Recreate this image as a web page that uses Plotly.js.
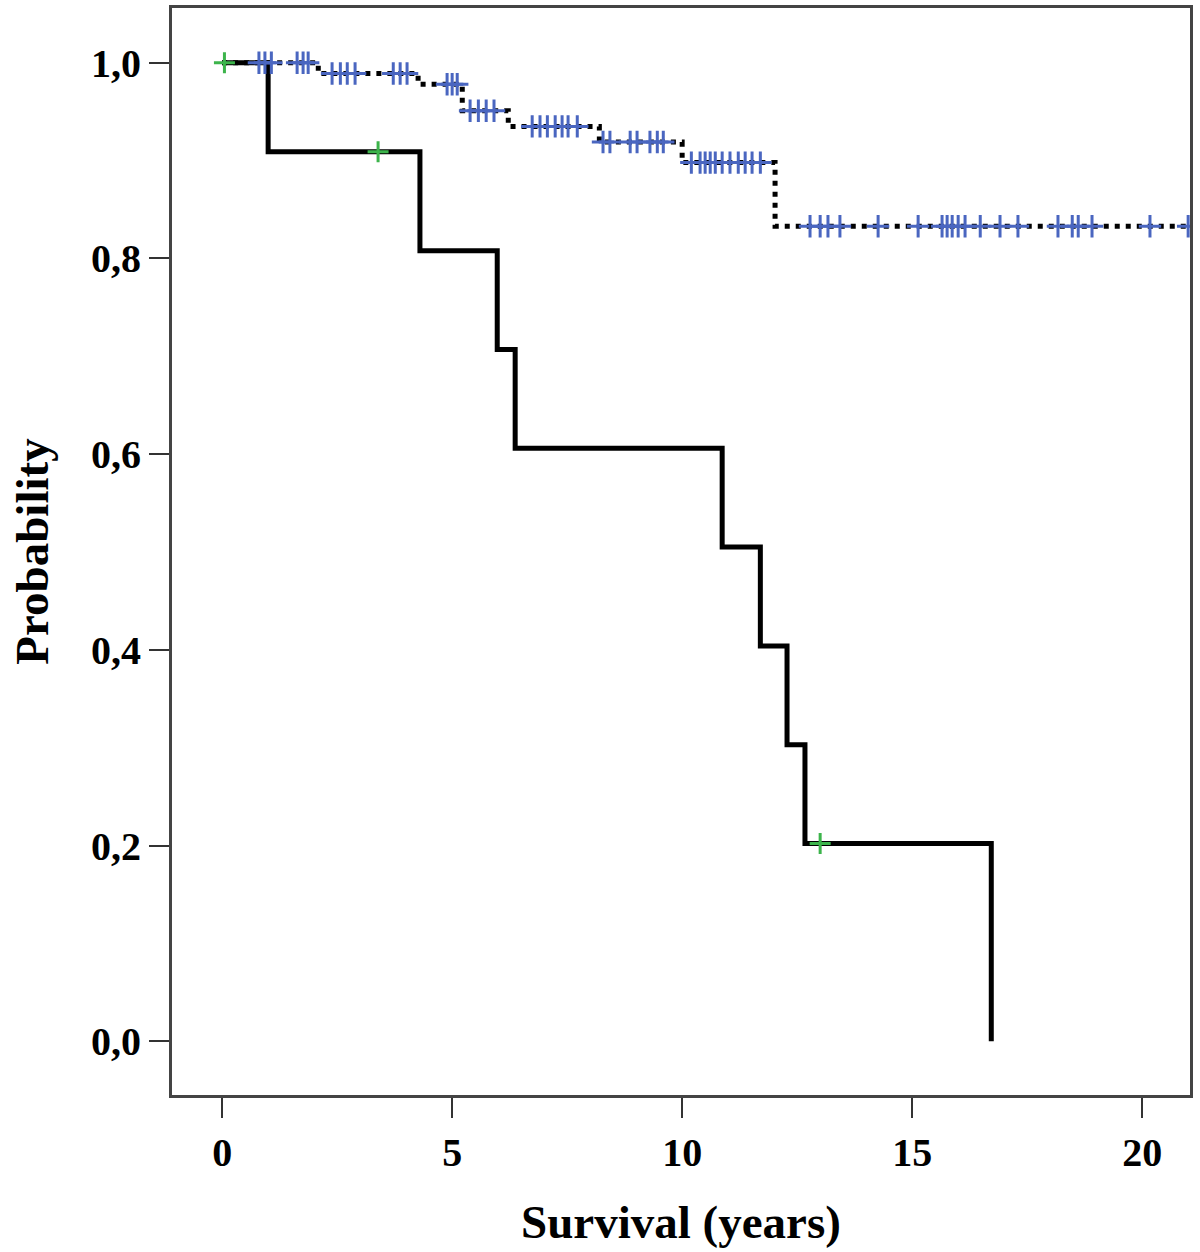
<!DOCTYPE html>
<html>
<head>
<meta charset="utf-8">
<script src="https://cdn.plot.ly/plotly-3.0.1.min.js"></script>
<style>html,body{margin:0;padding:0;background:#fff;}#chart{width:1200px;height:1252px;}</style>
</head>
<body>
<div id="chart"></div>
<script>
// Group A (dotted): step times and survival levels
const dottedTimes = [0, 2.09, 4.26, 5.22, 6.22, 8.2, 10.0, 12.02];
const dottedSurv  = [1.0, 0.989, 0.978, 0.951, 0.935, 0.919, 0.898, 0.833];
const dottedEnd = 21.05;
// Group A censored observations (blue)
const dottedCensTimes = [0.8, 0.93, 1.07, 1.63, 1.76, 1.87,
  2.39, 2.57, 2.72, 2.89, 3.72, 3.87, 4.02,
  4.89, 5.0, 5.11,
  5.39, 5.57, 5.74, 5.91,
  6.74, 6.91, 7.07, 7.24, 7.39, 7.52, 7.72,
  8.28, 8.43, 8.87, 9.02, 9.3, 9.46, 9.59,
  10.2, 10.39, 10.5, 10.61, 10.72, 10.87, 11.04, 11.22, 11.37, 11.52, 11.7,
  12.78, 13.0, 13.17, 13.43, 14.26, 15.13, 15.65, 15.76, 15.87, 16.0, 16.15,
  16.48, 16.91, 17.3, 18.17, 18.48, 18.61, 18.91, 20.17, 21.0];

// Group B (solid)
const solidTimes = [0, 1.0, 4.3, 5.98, 6.37, 10.87, 11.7, 12.28, 12.67, 16.72];
const solidSurv  = [1.0, 0.909, 0.808, 0.707, 0.606, 0.505, 0.404, 0.303, 0.202, 0.0];
const solidCensTimes = [0.05, 3.39, 13.0];

const xTicks = [0, 5, 10, 15, 20];
const yTicks = [0, 0.2, 0.4, 0.6, 0.8, 1.0];
const yTickText = ['0,0', '0,2', '0,4', '0,6', '0,8', '1,0'];

function stepValueAt(times, surv, t) {
  let v = surv[0];
  for (let i = 0; i < times.length; i++) { if (times[i] <= t) v = surv[i]; }
  return v;
}
function stepPath(times, surv, end) {
  const x = [], y = [];
  for (let i = 0; i < times.length; i++) {
    if (i > 0) { x.push(times[i]); y.push(surv[i - 1]); }
    x.push(times[i]); y.push(surv[i]);
  }
  if (end !== undefined) { x.push(end); y.push(surv[surv.length - 1]); }
  return {x, y};
}

const dp = stepPath(dottedTimes, dottedSurv, dottedEnd);
const sp = stepPath(solidTimes, solidSurv);

const traces = [
  {x: dp.x, y: dp.y, mode: 'lines', line: {color: '#000', width: 5, dash: '5px,6px'}, hoverinfo: 'skip'},
  {x: sp.x, y: sp.y, mode: 'lines', line: {color: '#000', width: 5}, hoverinfo: 'skip'},
  {x: dottedCensTimes, y: dottedCensTimes.map(t => stepValueAt(dottedTimes, dottedSurv, t)),
   mode: 'markers', marker: {symbol: 'cross-thin', size: 16, color: '#4a66c0', line: {color: '#4a66c0', width: 3}}},
  {x: solidCensTimes, y: solidCensTimes.map(t => stepValueAt(solidTimes, solidSurv, t)),
   mode: 'markers', marker: {symbol: 'cross-thin', size: 15, color: '#3cb44b', line: {color: '#3cb44b', width: 3}}}
];

const font = {family: '"Liberation Serif", "Times New Roman", serif', color: '#000'};

const layout = {
  width: 1200, height: 1252,
  margin: {l: 172, r: 10, t: 8, b: 157},
  paper_bgcolor: '#fff', plot_bgcolor: '#fff',
  showlegend: false,
  font: font,
  xaxis: {
    range: [-1.09, 21.04], tickvals: xTicks, ticktext: xTicks.map(String),
    ticks: 'outside', ticklen: 20, tickwidth: 2, tickcolor: '#333',
    showgrid: false, zeroline: false, showline: true, linecolor: '#444', linewidth: 3, mirror: true,
    tickfont: {family: font.family, size: 40, color: '#000', weight: 'bold'},
    title: {text: '<b>Survival (years)</b>', font: {family: font.family, size: 47, color: '#000'}, standoff: 32}
  },
  yaxis: {
    range: [-0.055, 1.056], tickvals: yTicks, ticktext: yTickText,
    ticks: 'outside', ticklen: 20, tickwidth: 2, tickcolor: '#333',
    showgrid: false, zeroline: false, showline: true, linecolor: '#444', linewidth: 3, mirror: true,
    tickfont: {family: font.family, size: 40, color: '#000', weight: 'bold'},
    title: {text: '<b>Probability</b>', font: {family: font.family, size: 47, color: '#000'}, standoff: 28}
  }
};

Plotly.newPlot('chart', traces, layout, {staticPlot: true, displayModeBar: false});
</script>
</body>
</html>
